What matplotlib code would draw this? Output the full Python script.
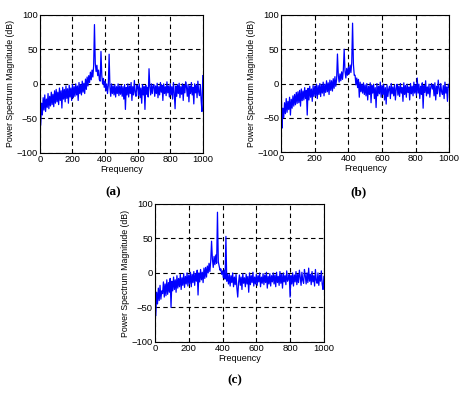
import numpy as np
import matplotlib
matplotlib.use('Agg')
import matplotlib.pyplot as plt

# frequence echantillonnee tous les 5 Hz (0 -> 1000)
freq = np.arange(0, 1001, 5)

# valeurs lues a la main sur chaque spectre (dB)
mag_a = [-3, -60, -28, -45, -20, -38, -16, -40, -22, -34, -14, -36, -18, -32, -12, -30, -15, -33, -10, -28,
         -8, -26, -12, -30, -6, -24, -10, -35, -5, -22, -8, -26, -3, -21, -7, -28, -2, -19, -6, -24,
         -1, -20, -4, -18, 0, -16, -3, -24, 2, -14, -1, -16, 4, -12, 1, -14, 7, -8, 10, -3,
         12, 2, 17, 6, 20, 10, 26, 86, 30, 18, 27, 12, 20, 6, 4, 47, 12, 0, 8, -5,
         4, -10, 0, -14, -2, 43, -5, -18, 0, -14, -3, -16, -1, -19, -4, -14, 0, -17, -3, -15,
         -2, -18, -4, -22, -1, -37, -5, -16, 0, -19, -3, -14, 2, -24, -4, -16, 5, -12, -18, -2,
         -3, -17, 0, -20, -6, -28, -1, -16, -4, -37, -2, -15, -5, -19, 22, -4, -16, 0, -14, -3,
         -1, -18, -3, -14, 1, -20, -4, -16, 2, -12, -2, -24, 0, -14, -4, -17, 3, -13, -3, -19,
         0, -16, -4, -22, 2, -13, -36, -3, -18, -1, -14, 1, -20, -4, -15, 0, -24, -2, -13, 3,
         -4, -18, -1, -26, -3, -14, 2, -16, -5, -29, 0, -13, -2, -20, 4, -12, -17, -1, -24, -40,
         12]

mag_b = [-3, -65, -36, -50, -28, -44, -22, -42, -26, -38, -20, -46, -23, -36, -18, -33, -16, -31, -13, -29,
         -12, -28, -10, -33, -8, -25, -11, -24, -6, -22, -10, -46, -7, -24, -4, -20, -8, -26, -3, -19,
         -4, -18, -1, -22, -3, -16, 0, -19, -2, -14, 2, -18, -1, -13, 4, -12, 1, -16, 5, -10,
         4, -11, 7, -7, 10, -4, 6, 43, 12, 2, 14, 4, 17, 6, 20, 50, 18, 8, 22, 12,
         24, 14, 27, 16, 30, 88, 28, 12, 12, -2, 8, -6, 6, -20, 2, -12, -1, -14, 1, -16,
         -2, -18, 0, -24, -4, -16, 1, -28, -3, -14, -1, -22, -6, -35, 0, -18, -4, -15, 2, -20,
         -3, -16, -1, -24, -6, -30, -2, -19, -8, -4, -22, 0, -15, -5, -18, -2, -24, -7, -1, -17,
         -4, -19, 0, -14, -6, -26, 1, -16, -3, -20, -1, -13, -5, -24, 0, -15, -4, -18, 2, -14,
         -2, -17, 8, -14, -1, -22, -4, -16, 1, -36, -3, -13, 4, -18, -5, -15, -1, -20, -6, 0,
         -8, -2, -18, 1, -24, -4, -15, 5, -7, -19, 0, -12, -16, -3, -22, 2, -14, -5, -26, -1,
         -5]

mag_c = [-5, -62, -28, -45, -22, -40, -18, -38, -26, -30, -13, -35, -16, -33, -10, -31, -14, -28, -8, -50,
         -12, -26, -6, -24, -10, -28, -4, -22, -8, -20, -2, -24, -7, -18, -1, -21, -5, -16, 0, -19,
         -3, -16, 1, -20, -2, -14, 2, -18, -1, -12, 4, -32, 0, -13, 5, -10, 1, -14, 7, -8,
         8, -6, 10, 0, 14, 2, 17, 46, 20, 8, 24, 12, 26, 14, 88, 16, 10, 4, 6, -2,
         3, -7, 4, -9, 53, -12, -2, -16, -2, -19, -4, -14, 0, -20, -6, -17, -2, -22, -35, -14,
         -3, -18, -6, -24, -1, -15, -7, -20, -2, -16, -5, -28, 0, -17, -4, -14, 1, -19, -6, -16,
         -2, -18, -4, -13, 0, -20, -6, -15, -1, -17, -3, -14, 1, -22, -5, -16, -1, -19, -4, -13,
         0, -16, -3, -20, 1, -14, -5, -18, 2, -15, -2, -22, 0, -13, -4, -17, 3, -12, -8, -2,
         -35, -4, -16, 0, -19, -3, -13, 2, -17, -2, -14, 4, -6, -18, 1, -11, -15, 5, -4, -16,
         0, -14, 7, -12, -2, -17, 2, -13, -4, -19, 5, -11, -15, 0, -18, -3, -12, 3, -16, -24,
         -5]

labels = ['(a)', '(b)', '(c)']
xticks = [0, 200, 400, 600, 800, 1000]
yticks = [-100, -50, 0, 50, 100]

fig = plt.figure(figsize=(4.64, 3.93), dpi=100)
plt.rcParams['font.family'] = ['Liberation Sans', 'DejaVu Sans']

# positions des axes [gauche, bas, largeur, hauteur]
positions = [[0.086, 0.611, 0.351, 0.351],
             [0.606, 0.613, 0.362, 0.349],
             [0.334, 0.130, 0.364, 0.351]]
label_pos = [(0.245, 0.512), (0.772, 0.512), (0.507, 0.032)]

for mag, pos, lab, lp in zip([mag_a, mag_b, mag_c], positions, labels, label_pos):
    ax = fig.add_axes(pos)
    ax.plot(freq, mag, color='#0000ff', linewidth=0.9)
    ax.set_xlim(0, 1000)
    ax.set_ylim(-100, 100)
    ax.set_xticks(xticks)
    ax.set_yticks(yticks)
    ax.tick_params(labelsize=6.8, length=0, pad=1.5)
    ax.grid(True, color='black', linestyle=(0, (4, 3)), linewidth=0.8)
    for s in ax.spines.values():
        s.set_linewidth(0.8)
    ax.set_xlabel('Frequency', fontsize=6.5, labelpad=0.5)
    ax.set_ylabel('Power Spectrum Magnitude (dB)', fontsize=6.3, labelpad=1)
    fig.text(lp[0], lp[1], lab, ha='center', va='center', fontsize=9.5,
             fontweight='bold', family='Liberation Serif')

fig.savefig('out.png', dpi=100)
